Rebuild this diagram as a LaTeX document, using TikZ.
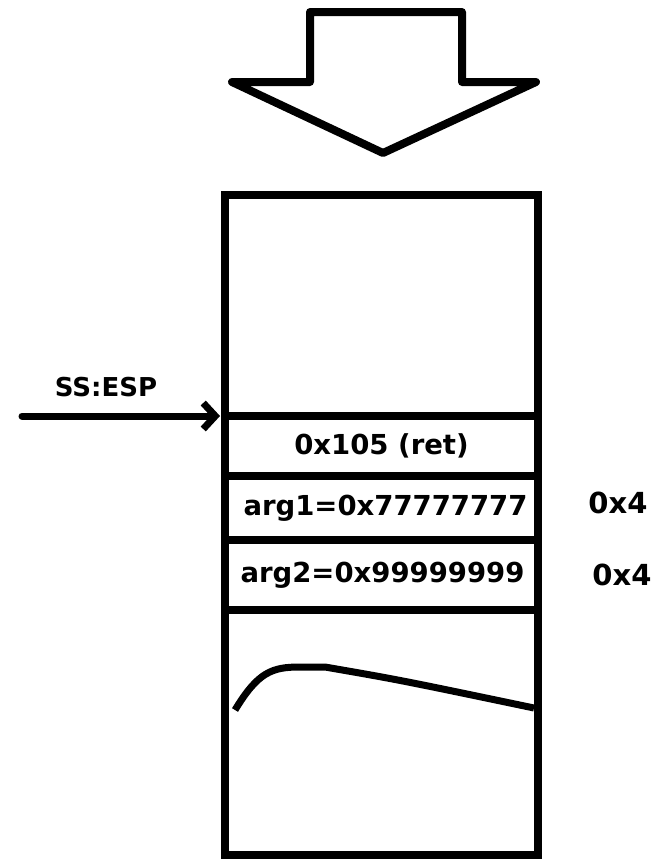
\documentclass[tikz,border=0pt]{standalone}
\usepackage{fontspec}
\setmainfont{DejaVu Sans}
\usetikzlibrary{arrows.meta}
\begin{document}
\begin{tikzpicture}[x=1pt,y=-1pt,
  cell/.style={draw,line width=8pt,rectangle,minimum width=313pt,inner sep=0pt,outer sep=0pt,font=\fontsize{27.5}{27.5}\bfseries\selectfont},
  lbl/.style={font=\fontsize{26}{26}\bfseries\selectfont,inner sep=0pt},
  sizelbl/.style={font=\fontsize{29}{29}\bfseries\selectfont,inner sep=0pt}]
\useasboundingbox (0,0) rectangle (666,860);
% big down arrow
\draw[line width=8pt,line join=round] (310,12) -- (462,12) -- (462,82) -- (536,82) -- (383,153) -- (232,82) -- (310,82) -- cycle;
% stack cells
\node[cell,minimum height=221pt] (c0) at (381.5,305.5) {};
\node[cell,minimum height=60pt] (c1) at (381.5,446) {\raisebox{-3pt}{0x105 (ret)}};
\node[cell,minimum height=64pt] (c2) at (381.5,508) {\hspace*{8pt}arg1=0x77777777};
\node[cell,minimum height=70pt] (c3) at (381.5,575) {\hspace*{2pt}\raisebox{1pt}{arg2=0x99999999}};
\node[cell,minimum height=245pt] (c4) at (381.5,732.5) {};
% curve inside bottom cell
\draw[line width=7pt] (235,710) .. controls (258,672) and (272,667) .. (300,667) -- (325,667) .. controls (400,680) .. (534,708);
% ESP pointer
\coordinate (esp) at (22,416);
\draw[line width=7pt,line cap=round,shorten >=5pt,-{Straight Barb[length=12pt,width=26pt,line width=7pt]}] (esp) -- (c0.south west);
\node[lbl] (espl) at (106,387) {SS:ESP};
\node[sizelbl] (s1) at (618,503) {0x4};
\node[sizelbl] (s2) at (622,575) {0x4};
\end{tikzpicture}
\end{document}
